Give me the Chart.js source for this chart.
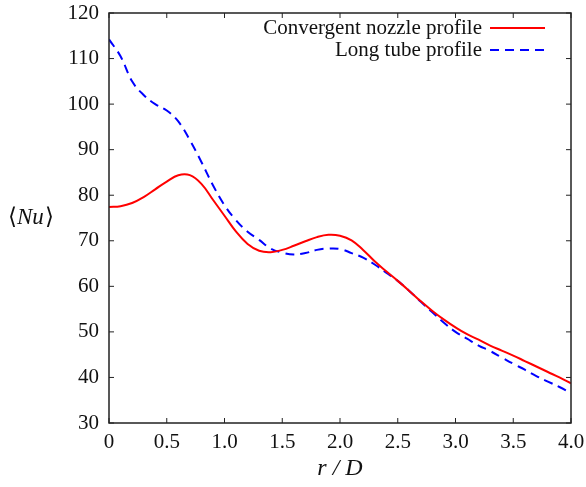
<!DOCTYPE html>
<html>
<head>
<meta charset="utf-8">
<script src="https://cdn.jsdelivr.net/npm/chart.js@4/dist/chart.umd.min.js"></script>
<style>
  html, body { margin: 0; padding: 0; background: #fff; }
  #wrap { width: 586px; height: 487px; }
</style>
</head>
<body>
<div id="wrap"><canvas id="nuChart" width="586" height="487"></canvas></div>
<script>
// r/D positions and averaged Nusselt numbers
const rD = [0.0, 0.1, 0.2, 0.3, 0.4, 0.5, 0.6, 0.7, 0.8, 0.9,
            1.0, 1.1, 1.2, 1.3, 1.4, 1.5, 1.6, 1.7, 1.8, 1.9,
            2.0, 2.1, 2.2, 2.3, 2.4, 2.5, 2.6, 2.7, 2.8, 2.9,
            3.0, 3.1, 3.2, 3.3, 3.4, 3.5, 3.6, 3.7, 3.8, 3.9, 4.0];
const nozzleNu = [77.4, 77.6, 78.3, 79.6, 81.3, 83.0, 84.4, 84.4, 82.5, 79.0,
                  75.5, 72.0, 69.3, 67.8, 67.5, 68.0, 68.9, 69.9, 70.8, 71.3,
                  71.1, 70.1, 68.0, 65.5, 63.3, 61.2, 59.0, 56.7, 54.6, 52.7,
                  51.0, 49.5, 48.3, 47.0, 45.9, 44.8, 43.6, 42.4, 41.2, 40.0, 38.7];
const tubeNu = [114.2, 110.5, 105.0, 102.0, 100.0, 98.6, 96.2, 92.1, 87.3, 82.2,
                77.8, 74.5, 72.0, 70.2, 68.3, 67.4, 67.0, 67.3, 68.0, 68.3,
                68.2, 67.3, 66.3, 64.8, 63.0, 61.2, 59.0, 56.6, 54.3, 52.0,
                50.0, 48.5, 47.0, 45.8, 44.4, 43.0, 41.7, 40.3, 39.1, 37.9, 36.6];
const seriesNames = ['Convergent nozzle profile', 'Long tube profile'];
const xTicks = [0, 0.5, 1.0, 1.5, 2.0, 2.5, 3.0, 3.5, 4.0];
const yTicks = [30, 40, 50, 60, 70, 80, 90, 100, 110, 120];

const serif = '"Liberation Serif", "Times New Roman", serif';

// frame with inward ticks on all four sides, gnuplot style
const framePlugin = {
  id: 'frame',
  afterDatasetsDraw(chart) {
    const { ctx, chartArea: a, scales } = chart;
    const t = 5;
    ctx.save();
    ctx.strokeStyle = '#222';
    ctx.lineWidth = 1.5;
    ctx.strokeRect(a.left, a.top, a.right - a.left, a.bottom - a.top);
    ctx.lineWidth = 1;
    ctx.beginPath();
    xTicks.forEach(v => {
      const x = scales.x.getPixelForValue(v);
      ctx.moveTo(x, a.bottom); ctx.lineTo(x, a.bottom - t);
      ctx.moveTo(x, a.top); ctx.lineTo(x, a.top + t);
    });
    yTicks.forEach(v => {
      const y = scales.y.getPixelForValue(v);
      ctx.moveTo(a.left, y); ctx.lineTo(a.left + t, y);
      ctx.moveTo(a.right, y); ctx.lineTo(a.right - t, y);
    });
    ctx.stroke();

    // legend, text right aligned with line sample after it
    ctx.font = '21px ' + serif;
    ctx.fillStyle = '#111';
    ctx.textAlign = 'right';
    ctx.textBaseline = 'middle';
    chart.data.datasets.forEach((ds, i) => {
      const y = 28 + i * 22;
      ctx.fillText(ds.label, 482, y);
      ctx.strokeStyle = ds.borderColor;
      ctx.lineWidth = 2;
      ctx.setLineDash(ds.borderDash || []);
      ctx.beginPath();
      ctx.moveTo(490, y); ctx.lineTo(545, y);
      ctx.stroke();
      ctx.setLineDash([]);
    });

    // y axis title <Nu>
    ctx.textAlign = 'left';
    ctx.fillStyle = '#111';
    let x = 8;
    const y = 218;
    ctx.font = '23px ' + serif;
    ctx.fillText('\u27E8', x, y);
    x += ctx.measureText('\u27E8').width;
    ctx.font = 'italic 23px ' + serif;
    ctx.fillText('Nu', x, y);
    x += ctx.measureText('Nu').width + 1;
    ctx.font = '23px ' + serif;
    ctx.fillText('\u27E9', x, y);
    ctx.restore();
  }
};

new Chart(document.getElementById('nuChart').getContext('2d'), {
  type: 'line',
  data: {
    datasets: [{
      label: seriesNames[0],
      data: rD.map((r, i) => ({ x: r, y: nozzleNu[i] })),
      borderColor: '#ff0000',
      borderWidth: 2,
      pointRadius: 0,
      tension: 0.4,
      fill: false
    }, {
      label: seriesNames[1],
      data: rD.map((r, i) => ({ x: r, y: tubeNu[i] })),
      borderColor: '#0000ff',
      borderWidth: 2,
      borderDash: [9, 6],
      pointRadius: 0,
      tension: 0.4,
      fill: false
    }]
  },
  options: {
    responsive: false,
    animation: false,
    layout: { padding: { left: 0, right: 15, top: 13, bottom: 0 } },
    plugins: { legend: { display: false }, tooltip: { enabled: false } },
    scales: {
      x: {
        type: 'linear',
        min: 0, max: 4,
        afterBuildTicks: s => { s.ticks = xTicks.map(v => ({ value: v })); },
        afterFit: s => {
          s.height = 64;
          s.paddingLeft = 0; s.paddingRight = 0;
        },
        grid: { display: false, drawTicks: false },
        border: { display: false },
        ticks: {
          padding: 7,
          color: '#111',
          font: { family: serif, size: 21 },
          callback: v => v === 0 ? '0' : v.toFixed(1)
        },
        title: {
          display: true,
          text: 'r / D',
          color: '#111',
          font: { family: serif, size: 24, style: 'italic' },
          padding: { top: 0, bottom: 4 }
        }
      },
      y: {
        min: 30, max: 120,
        afterBuildTicks: s => { s.ticks = yTicks.map(v => ({ value: v })); },
        afterFit: s => {
          s.width = 109;
          s.paddingTop = 0; s.paddingBottom = 0;
        },
        grid: { display: false, drawTicks: false },
        border: { display: false },
        ticks: {
          padding: 10,
          color: '#111',
          font: { family: serif, size: 21 }
        }
      }
    }
  },
  plugins: [framePlugin]
});
</script>
</body>
</html>
